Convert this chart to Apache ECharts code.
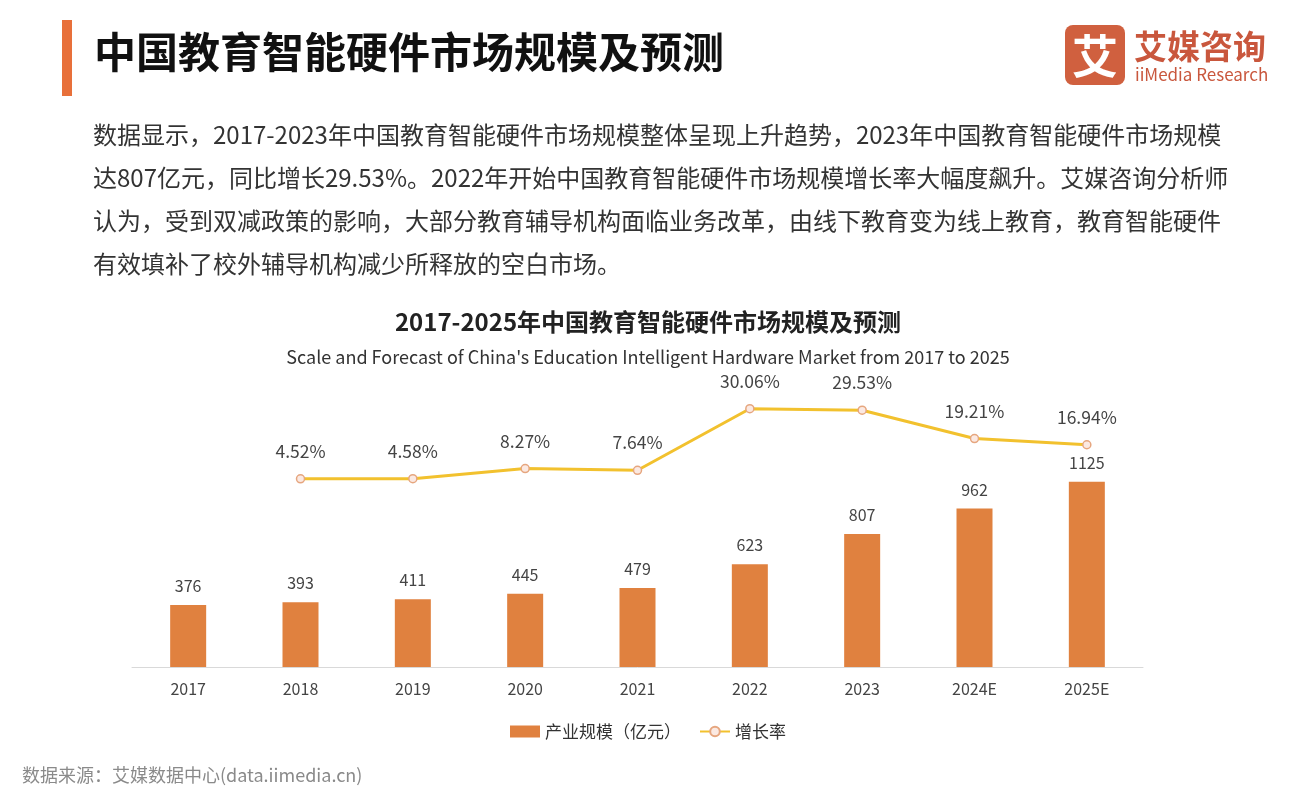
<!DOCTYPE html>
<html><head><meta charset="utf-8">
<script src="https://cdn.jsdelivr.net/npm/echarts@6/dist/echarts.min.js"></script>
<style>html,body{margin:0;padding:0;background:#fff;}#c{width:1296px;height:790px;}</style>
</head><body><div id="c"></div>
<script>
const categories = ['2017','2018','2019','2020','2021','2022','2023','2024E','2025E'];
const marketSize = [376,393,411,445,479,623,807,962,1125];
const growthRate = [null,4.52,4.58,8.27,7.64,30.06,29.53,19.21,16.94];
const pageTitle = '中国教育智能硬件市场规模及预测';
const paragraph = [
  '数据显示，2017-2023年中国教育智能硬件市场规模整体呈现上升趋势，2023年中国教育智能硬件市场规模',
  '达807亿元，同比增长29.53%。2022年开始中国教育智能硬件市场规模增长率大幅度飙升。艾媒咨询分析师',
  '认为，受到双减政策的影响，大部分教育辅导机构面临业务改革，由线下教育变为线上教育，教育智能硬件',
  '有效填补了校外辅导机构减少所释放的空白市场。'
];
const chartTitle = '2017-2025年中国教育智能硬件市场规模及预测';
const chartSub = "Scale and Forecast of China's Education Intelligent Hardware Market from 2017 to 2025";
const source = '数据来源：艾媒数据中心(data.iimedia.cn)';

const FONT = '"Noto Sans CJK SC","Noto Sans",sans-serif';
const chart = echarts.init(document.getElementById('c'));
const graphics = [
  {type:'rect', shape:{x:62,y:20,width:10,height:76}, style:{fill:'#E8703A'}},
  {type:'text', x:94, y:52, style:{text:pageTitle, font:'bold 42px '+FONT, fill:'#111', textVerticalAlign:'middle'}},
  {type:'rect', shape:{x:1065,y:25,width:60,height:60,r:8}, style:{fill:'#D0603F'}},
  {type:'text', x:1095, y:56, style:{text:'艾', font:'bold 46px '+FONT, fill:'#fff', textAlign:'center', textVerticalAlign:'middle'}},
  {type:'text', x:1134, y:46, style:{text:'艾媒咨询', font:'bold 33px '+FONT, fill:'#C9573D', textVerticalAlign:'middle'}},
  {type:'text', x:1135, y:75, style:{text:'iiMedia Research', font:'17px '+FONT, fill:'#C9573D', textVerticalAlign:'middle'}},
  {type:'text', x:22, y:775, style:{text:source, font:'18px '+FONT, fill:'#8a8a8a', textVerticalAlign:'middle'}}
];
paragraph.forEach((t,i)=>graphics.push({type:'text', x:93, y:135+i*43, style:{text:t, font:'24px '+FONT, fill:'#333', textVerticalAlign:'middle'}}));

chart.setOption({
  animation:false,
  backgroundColor:'#fff',
  title:[
    {text:chartTitle, left:'center', top:305, textStyle:{fontFamily:FONT, fontSize:24, fontWeight:'bold', color:'#222'}},
    {text:chartSub, left:'center', top:343, textStyle:{fontFamily:FONT, fontSize:18, fontWeight:'normal', color:'#333'}}
  ],
  graphic:graphics,
  legend:{
    left:'center', top:718, itemWidth:30, itemHeight:12, itemGap:18,
    textStyle:{fontFamily:FONT, fontSize:17, color:'#333'},
    data:[{name:'产业规模（亿元）', icon:'rect'},{name:'增长率'}]
  },
  grid:{left:132, right:153, top:337.5, bottom:123},
  xAxis:{type:'category', data:categories,
    axisLine:{lineStyle:{color:'#d9d9d9'}}, axisTick:{show:false},
    axisLabel:{fontFamily:FONT, fontSize:16, color:'#444', margin:14}},
  yAxis:[
    {type:'value', min:0, max:2000, show:false, splitLine:{show:false}},
    {type:'value', min:-64, max:56, show:false, splitLine:{show:false}}
  ],
  series:[
    {name:'产业规模（亿元）', type:'bar', data:marketSize, barWidth:36, yAxisIndex:0,
      itemStyle:{color:'#E0813F'},
      label:{show:true, position:'top', distance:11, fontFamily:FONT, fontSize:16, color:'#444'}},
    {name:'增长率', type:'line', data:growthRate, yAxisIndex:1,
      lineStyle:{color:'#F2C12E', width:3}, itemStyle:{color:'#FBE9E2', borderColor:'#E6A67F', borderWidth:1.5},
      symbol:'circle', symbolSize:8, showAllSymbol:true,
      label:{show:true, position:'top', distance:14, fontFamily:FONT, fontSize:17.5, color:'#444',
        formatter:p=>p.value==null?'':p.value.toFixed(2)+'%'}}
  ]
});
</script></body></html>
